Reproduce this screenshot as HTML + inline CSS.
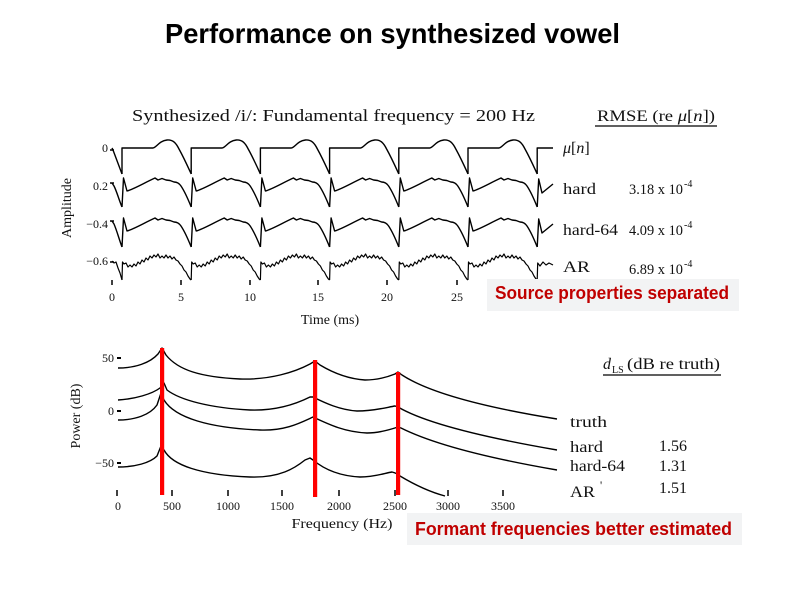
<!DOCTYPE html>
<html><head><meta charset="utf-8"><style>
html,body{margin:0;padding:0;background:#fff;}
svg{display:block;}
.s{font-family:"Liberation Serif",serif;fill:#111;}
.b{font-family:"Liberation Sans",sans-serif;font-weight:bold;}
.tr{fill:none;stroke:#000;stroke-width:1.4;stroke-linejoin:round;}
.tn{fill:none;stroke:#000;stroke-width:1.2;stroke-linejoin:round;}
</style></head><body>
<svg width="800" height="599" viewBox="0 0 800 599" xmlns="http://www.w3.org/2000/svg">
<rect width="800" height="599" fill="#fff"/>
<text class="b" x="165" y="43" font-size="28" textLength="455" lengthAdjust="spacingAndGlyphs" fill="#000">Performance on synthesized vowel</text>

<!-- Upper plot -->
<text class="s" x="132" y="121" font-size="17" textLength="403" lengthAdjust="spacingAndGlyphs">Synthesized /i/: Fundamental frequency = 200 Hz</text>
<text class="s" x="597" y="121" font-size="16" textLength="118" lengthAdjust="spacingAndGlyphs">RMSE (re <tspan font-style="italic">μ</tspan>[<tspan font-style="italic">n</tspan>])</text>
<line x1="595" y1="126" x2="717" y2="126" stroke="#000" stroke-width="1.3"/>

<defs>
<path id="mu" class="tr" d="M0,174 L0,148 L31,148 C35,147 37,141 45,140 C51,139.5 54,143 57,149 C62,158 66,167 69.2,174"/>
<path id="hd" class="tr" d="M0,207 L1.5,178 L5,191 C12,189 22,183 33,178 L36,180 L40,178.5 L44,180 L48,180.5 L52,182 C55,182 57,183 59,186 C63,192 66,199 69.2,207"/>
<path id="ar" class="tn" d="M0,280 L0.5,262 L2,264 L4,263 L6,267 L8,265 L10,267 L12,264 L14,266 L16,262 L18,264 L20,260 L22,262 L24,258 L26,260 L28,256 L30,258 L32,255 L34,257 L36,254 L38,258 L40,256 L42,258 L44,255 L46,258 L48,256 L50,259 L52,257 L54,260 L56,261 L58,264 L60,266 L62,270 L64,272 L66,276 L68,279 L69.2,280"/>
</defs>

<!-- mu[n] -->
<path class="tr" d="M112,148 L113,150 C116,158 119,166 122,174"/>
<use href="#mu" transform="translate(122,0)"/>
<use href="#mu" transform="translate(191.2,0)"/>
<use href="#mu" transform="translate(260.4,0)"/>
<use href="#mu" transform="translate(329.6,0)"/>
<use href="#mu" transform="translate(398.8,0)"/>
<use href="#mu" transform="translate(468,0)"/>
<path class="tr" d="M537.2,174 L537.2,148 L553,148"/>

<!-- hard -->
<path class="tr" d="M112,183 L114,186 C117,192 119,200 122,207"/>
<use href="#hd" transform="translate(122,0)"/>
<use href="#hd" transform="translate(191.2,0)"/>
<use href="#hd" transform="translate(260.4,0)"/>
<use href="#hd" transform="translate(329.6,0)"/>
<use href="#hd" transform="translate(398.8,0)"/>
<use href="#hd" transform="translate(468,0)"/>
<path class="tr" d="M537.2,207 L538.7,179 L542,193 L553,184"/>

<!-- hard-64 -->
<path class="tr" d="M112,221 L114,224 C117,231 119,239 122,247"/>
<use href="#hd" transform="translate(122,40)"/>
<use href="#hd" transform="translate(191.2,40)"/>
<use href="#hd" transform="translate(260.4,40)"/>
<use href="#hd" transform="translate(329.6,40)"/>
<use href="#hd" transform="translate(398.8,40)"/>
<use href="#hd" transform="translate(468,40)"/>
<path class="tr" d="M537.2,247 L538.7,219 L542,233 L553,224"/>

<!-- AR -->
<path class="tn" d="M112,261 L114,263 L116,262 L118,268 L120,273 L122,280"/>
<use href="#ar" transform="translate(122,0)"/>
<use href="#ar" transform="translate(191.2,0)"/>
<use href="#ar" transform="translate(260.4,0)"/>
<use href="#ar" transform="translate(329.6,0)"/>
<use href="#ar" transform="translate(398.8,0)"/>
<use href="#ar" transform="translate(468,0)"/>
<path class="tn" d="M537.2,280 L537.7,263 L540,266 L543,262 L546,265 L549,263 L553,265"/>

<!-- upper y ticks & labels -->
<g stroke="#000" stroke-width="1.5">
<line x1="110" y1="150" x2="114" y2="150"/>
<line x1="110" y1="183" x2="114" y2="183"/>
<line x1="110" y1="221" x2="114" y2="221"/>
<line x1="110" y1="262" x2="114" y2="262"/>
</g>
<g class="s" font-size="12" text-anchor="end">
<text x="108" y="152">0</text>
<text x="108" y="190">0.2</text>
<text x="108" y="228">−0.4</text>
<text x="108" y="265">−0.6</text>
</g>
<text class="s" font-size="14" transform="translate(71,208) rotate(-90)" text-anchor="middle">Amplitude</text>

<!-- upper x ticks -->
<g stroke="#000" stroke-width="1.5">
<line x1="112" y1="280" x2="112" y2="285"/>
<line x1="181" y1="280" x2="181" y2="285"/>
<line x1="250" y1="280" x2="250" y2="285"/>
<line x1="318" y1="280" x2="318" y2="285"/>
<line x1="387" y1="280" x2="387" y2="285"/>
<line x1="457" y1="280" x2="457" y2="285"/>
</g>
<g class="s" font-size="12" text-anchor="middle">
<text x="112" y="301">0</text>
<text x="181" y="301">5</text>
<text x="250" y="301">10</text>
<text x="318" y="301">15</text>
<text x="387" y="301">20</text>
<text x="457" y="301">25</text>
</g>
<text class="s" x="330" y="324" font-size="14" text-anchor="middle">Time (ms)</text>

<!-- upper right labels -->
<text class="s" x="563" y="153" font-size="16"><tspan font-style="italic">μ</tspan>[<tspan font-style="italic">n</tspan>]</text>
<text class="s" x="563" y="194" font-size="16" textLength="33" lengthAdjust="spacingAndGlyphs">hard</text>
<text class="s" x="629" y="194" font-size="15" textLength="54" lengthAdjust="spacingAndGlyphs">3.18 x 10</text>
<text class="s" x="684" y="187" font-size="10">-4</text>
<text class="s" x="563" y="235" font-size="16" textLength="55" lengthAdjust="spacingAndGlyphs">hard-64</text>
<text class="s" x="629" y="235" font-size="15" textLength="54" lengthAdjust="spacingAndGlyphs">4.09 x 10</text>
<text class="s" x="684" y="228" font-size="10">-4</text>
<text class="s" x="563" y="272" font-size="16" textLength="27" lengthAdjust="spacingAndGlyphs">AR</text>
<text class="s" x="629" y="274" font-size="15" textLength="54" lengthAdjust="spacingAndGlyphs">6.89 x 10</text>
<text class="s" x="684" y="267" font-size="10">-4</text>

<!-- box 1 -->
<rect x="487" y="279" width="252" height="32" fill="#f2f3f4"/>
<text class="b" x="495" y="299" font-size="18" fill="#c00000" textLength="234" lengthAdjust="spacingAndGlyphs">Source properties separated</text>

<!-- Lower plot -->
<text class="s" x="603" y="369" font-size="16" font-style="italic">d</text>
<text class="s" x="612" y="373" font-size="10">LS</text>
<text class="s" x="627" y="369" font-size="16" textLength="93" lengthAdjust="spacingAndGlyphs">(dB re truth)</text>
<line x1="603" y1="375" x2="721" y2="375" stroke="#000" stroke-width="1.3"/>

<path class="tr" d="M118,368 C135,368 150,363 158,354 L162,348 L166,355 C178,370 200,377 240,379 C270,380 295,372 310,364 L315,361 L320,365 C335,374 350,379 365,380 C380,380 390,376 395,374 L398,372 L402,375 C425,390 470,405 557,419"/>
<path class="tr" d="M118,400 C135,399 152,394 160,388 L164,383 L167,390 C180,400 210,408 250,410 C280,411 300,402 310,397 L313,397 C325,403 340,410 357,411 C375,411 388,407 395,406 L398,407 C420,420 470,435 557,450"/>
<path class="tr" d="M118,420 C135,420 150,415 157,405 L161,393 L164,400 C175,418 210,428 260,430 C285,431 300,423 313,417 C330,425 345,432 367,433 C380,433 392,429 398,427 L401,428 C425,440 470,455 557,470"/>
<path class="tr" d="M118,467 C135,467 150,463 157,456 L161,446 L164,450 C172,465 200,475 250,477 C280,478 295,468 305,460 L310,458 L313,460 C325,470 340,476 360,477 C375,477 385,473 392,472 C396,473 398,474 400,476 C415,485 430,492 445,496"/>

<rect x="160" y="348" width="4.2" height="147" fill="#ff0000"/>
<rect x="313" y="360" width="4.2" height="137" fill="#ff0000"/>
<rect x="396" y="372" width="4.2" height="123" fill="#ff0000"/>

<g stroke="#000" stroke-width="2">
<line x1="117" y1="358" x2="121" y2="358"/>
<line x1="117" y1="411" x2="121" y2="411"/>
<line x1="117" y1="463" x2="121" y2="463"/>
</g>
<g class="s" font-size="12" text-anchor="end">
<text x="114" y="362">50</text>
<text x="114" y="415">0</text>
<text x="114" y="467">−50</text>
</g>
<text class="s" font-size="14" transform="translate(80,416) rotate(-90)" text-anchor="middle">Power (dB)</text>

<g stroke="#000" stroke-width="1.5">
<line x1="117" y1="490" x2="117" y2="496"/>
<line x1="172" y1="490" x2="172" y2="496"/>
<line x1="228" y1="490" x2="228" y2="496"/>
<line x1="282" y1="490" x2="282" y2="496"/>
<line x1="339" y1="490" x2="339" y2="496"/>
<line x1="395" y1="490" x2="395" y2="496"/>
<line x1="448" y1="490" x2="448" y2="496"/>
<line x1="503" y1="490" x2="503" y2="496"/>
</g>
<g class="s" font-size="12" text-anchor="middle">
<text x="118" y="510">0</text>
<text x="172" y="510">500</text>
<text x="228" y="510">1000</text>
<text x="282" y="510">1500</text>
<text x="339" y="510">2000</text>
<text x="395" y="510">2500</text>
<text x="448" y="510">3000</text>
<text x="503" y="510">3500</text>
</g>
<text class="s" x="342" y="528" font-size="14" text-anchor="middle" textLength="101" lengthAdjust="spacingAndGlyphs">Frequency (Hz)</text>

<text class="s" x="570" y="427" font-size="16" textLength="37" lengthAdjust="spacingAndGlyphs">truth</text>
<text class="s" x="570" y="452" font-size="16" textLength="33" lengthAdjust="spacingAndGlyphs">hard</text>
<text class="s" x="570" y="471" font-size="16" textLength="55" lengthAdjust="spacingAndGlyphs">hard-64</text>
<text class="s" x="570" y="497" font-size="16" textLength="25" lengthAdjust="spacingAndGlyphs">AR</text>
<text class="s" x="600" y="489" font-size="12">'</text>
<text class="s" x="659" y="451" font-size="16" textLength="28" lengthAdjust="spacingAndGlyphs">1.56</text>
<text class="s" x="659" y="471" font-size="16" textLength="28" lengthAdjust="spacingAndGlyphs">1.31</text>
<text class="s" x="659" y="493" font-size="16" textLength="28" lengthAdjust="spacingAndGlyphs">1.51</text>

<!-- box 2 -->
<rect x="407" y="513" width="335" height="32" fill="#f2f3f4"/>
<text class="b" x="415" y="535" font-size="18" fill="#c00000" textLength="317" lengthAdjust="spacingAndGlyphs">Formant frequencies better estimated</text>
</svg>
</body></html>
